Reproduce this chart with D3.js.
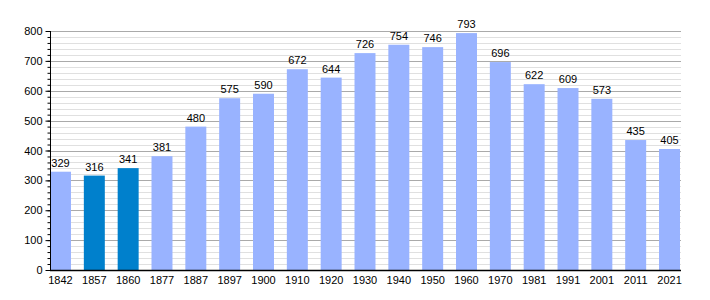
<!DOCTYPE html>
<html>
<head>
<meta charset="utf-8">
<script src="https://cdn.jsdelivr.net/npm/d3@7"></script>
<style>
  body { margin: 0; background: #fff; }
  text { font-family: "Liberation Sans", Arial, sans-serif; }
</style>
</head>
<body>
<div id="chart"></div>
<script>
var years = ['1842', '1857', '1860', '1877', '1887', '1897', '1900', '1910', '1920', '1930',
  '1940', '1950', '1960', '1970', '1981', '1991', '2001', '2011', '2021'];
var population = [329, 316, 341, 381, 480, 575, 590, 672, 644, 726,
  754, 746, 793, 696, 622, 609, 573, 435, 405];
// years drawn in the darker colour
var highlighted = ['1857', '1860'];
var majorTicks = [0, 100, 200, 300, 400, 500, 600, 700, 800];
var minorTicks = d3.range(0, 801, 20);

var width = 710, height = 300,
  plotLeft = 50, plotRight = 680, plotTop = 31, plotBottom = 270;

var svg = d3.select('#chart')
  .append('svg')
  .attr('width', width)
  .attr('height', height);

var x = d3.scaleBand()
  .domain(years)
  .range([plotLeft, plotRight])
  .paddingInner(0.38)
  .paddingOuter(0);

var y = d3.scaleLinear()
  .domain([0, 800])
  .range([plotBottom, plotTop]);

// minor grid
svg.append('g')
  .selectAll('line')
  .data(minorTicks.filter(function(d) { return d % 100 !== 0; }))
  .enter().append('line')
    .attr('x1', plotLeft)
    .attr('x2', plotRight + 1)
    .attr('y1', function(d) { return Math.round(y(d)) + 0.5; })
    .attr('y2', function(d) { return Math.round(y(d)) + 0.5; })
    .attr('stroke', '#e0e0e0')
    .attr('stroke-width', 1);

// major grid
svg.append('g')
  .selectAll('line')
  .data(majorTicks.filter(function(d) { return d > 0; }))
  .enter().append('line')
    .attr('x1', plotLeft)
    .attr('x2', plotRight + 1)
    .attr('y1', function(d) { return Math.round(y(d)) + 0.5; })
    .attr('y2', function(d) { return Math.round(y(d)) + 0.5; })
    .attr('stroke', '#aaaaaa')
    .attr('stroke-width', 1);

// bars
svg.append('g')
  .selectAll('rect')
  .data(years)
  .enter().append('rect')
    .attr('x', function(d) { return x(d); })
    .attr('y', function(d, i) { return y(population[i]); })
    .attr('width', x.bandwidth())
    .attr('height', function(d, i) { return plotBottom - y(population[i]); })
    .attr('fill', function(d) { return highlighted.indexOf(d) >= 0 ? '#0080cc' : '#99b3ff'; });

// value labels
svg.append('g')
  .selectAll('text')
  .data(years)
  .enter().append('text')
    .attr('x', function(d) { return x(d) + x.bandwidth() / 2; })
    .attr('y', function(d, i) { return y(population[i]) - 5; })
    .attr('text-anchor', 'middle')
    .attr('font-size', '11px')
    .attr('fill', '#000')
    .text(function(d, i) { return population[i]; });

// y axis with minor ticks
var yAxisMinor = d3.axisLeft(y).tickValues(minorTicks).tickSize(3).tickFormat('');
svg.append('g')
  .attr('transform', 'translate(' + (plotLeft + 0.5) + ',0)')
  .call(yAxisMinor)
  .call(function(g) { g.select('.domain').remove(); });

var yAxis = d3.axisLeft(y).tickValues(majorTicks).tickSize(5).tickPadding(3);
svg.append('g')
  .attr('transform', 'translate(' + (plotLeft + 0.5) + ',0)')
  .call(yAxis)
  .call(function(g) {
    g.select('.domain').attr('d', 'M0,' + plotTop + 'V' + plotBottom);
    g.selectAll('text').attr('font-size', '11px').attr('font-family', '"Liberation Sans", Arial, sans-serif');
  });

// x axis
var xAxis = d3.axisBottom(x).tickSize(0).tickPadding(6);
svg.append('g')
  .attr('transform', 'translate(0,' + (plotBottom + 0.5) + ')')
  .call(xAxis)
  .call(function(g) {
    g.select('.domain').attr('d', 'M' + plotLeft + ',0H' + (plotRight + 1)).attr('stroke-width', 1.5);
    g.selectAll('text').attr('font-size', '11px').attr('font-family', '"Liberation Sans", Arial, sans-serif');
  });
</script>
</body>
</html>
